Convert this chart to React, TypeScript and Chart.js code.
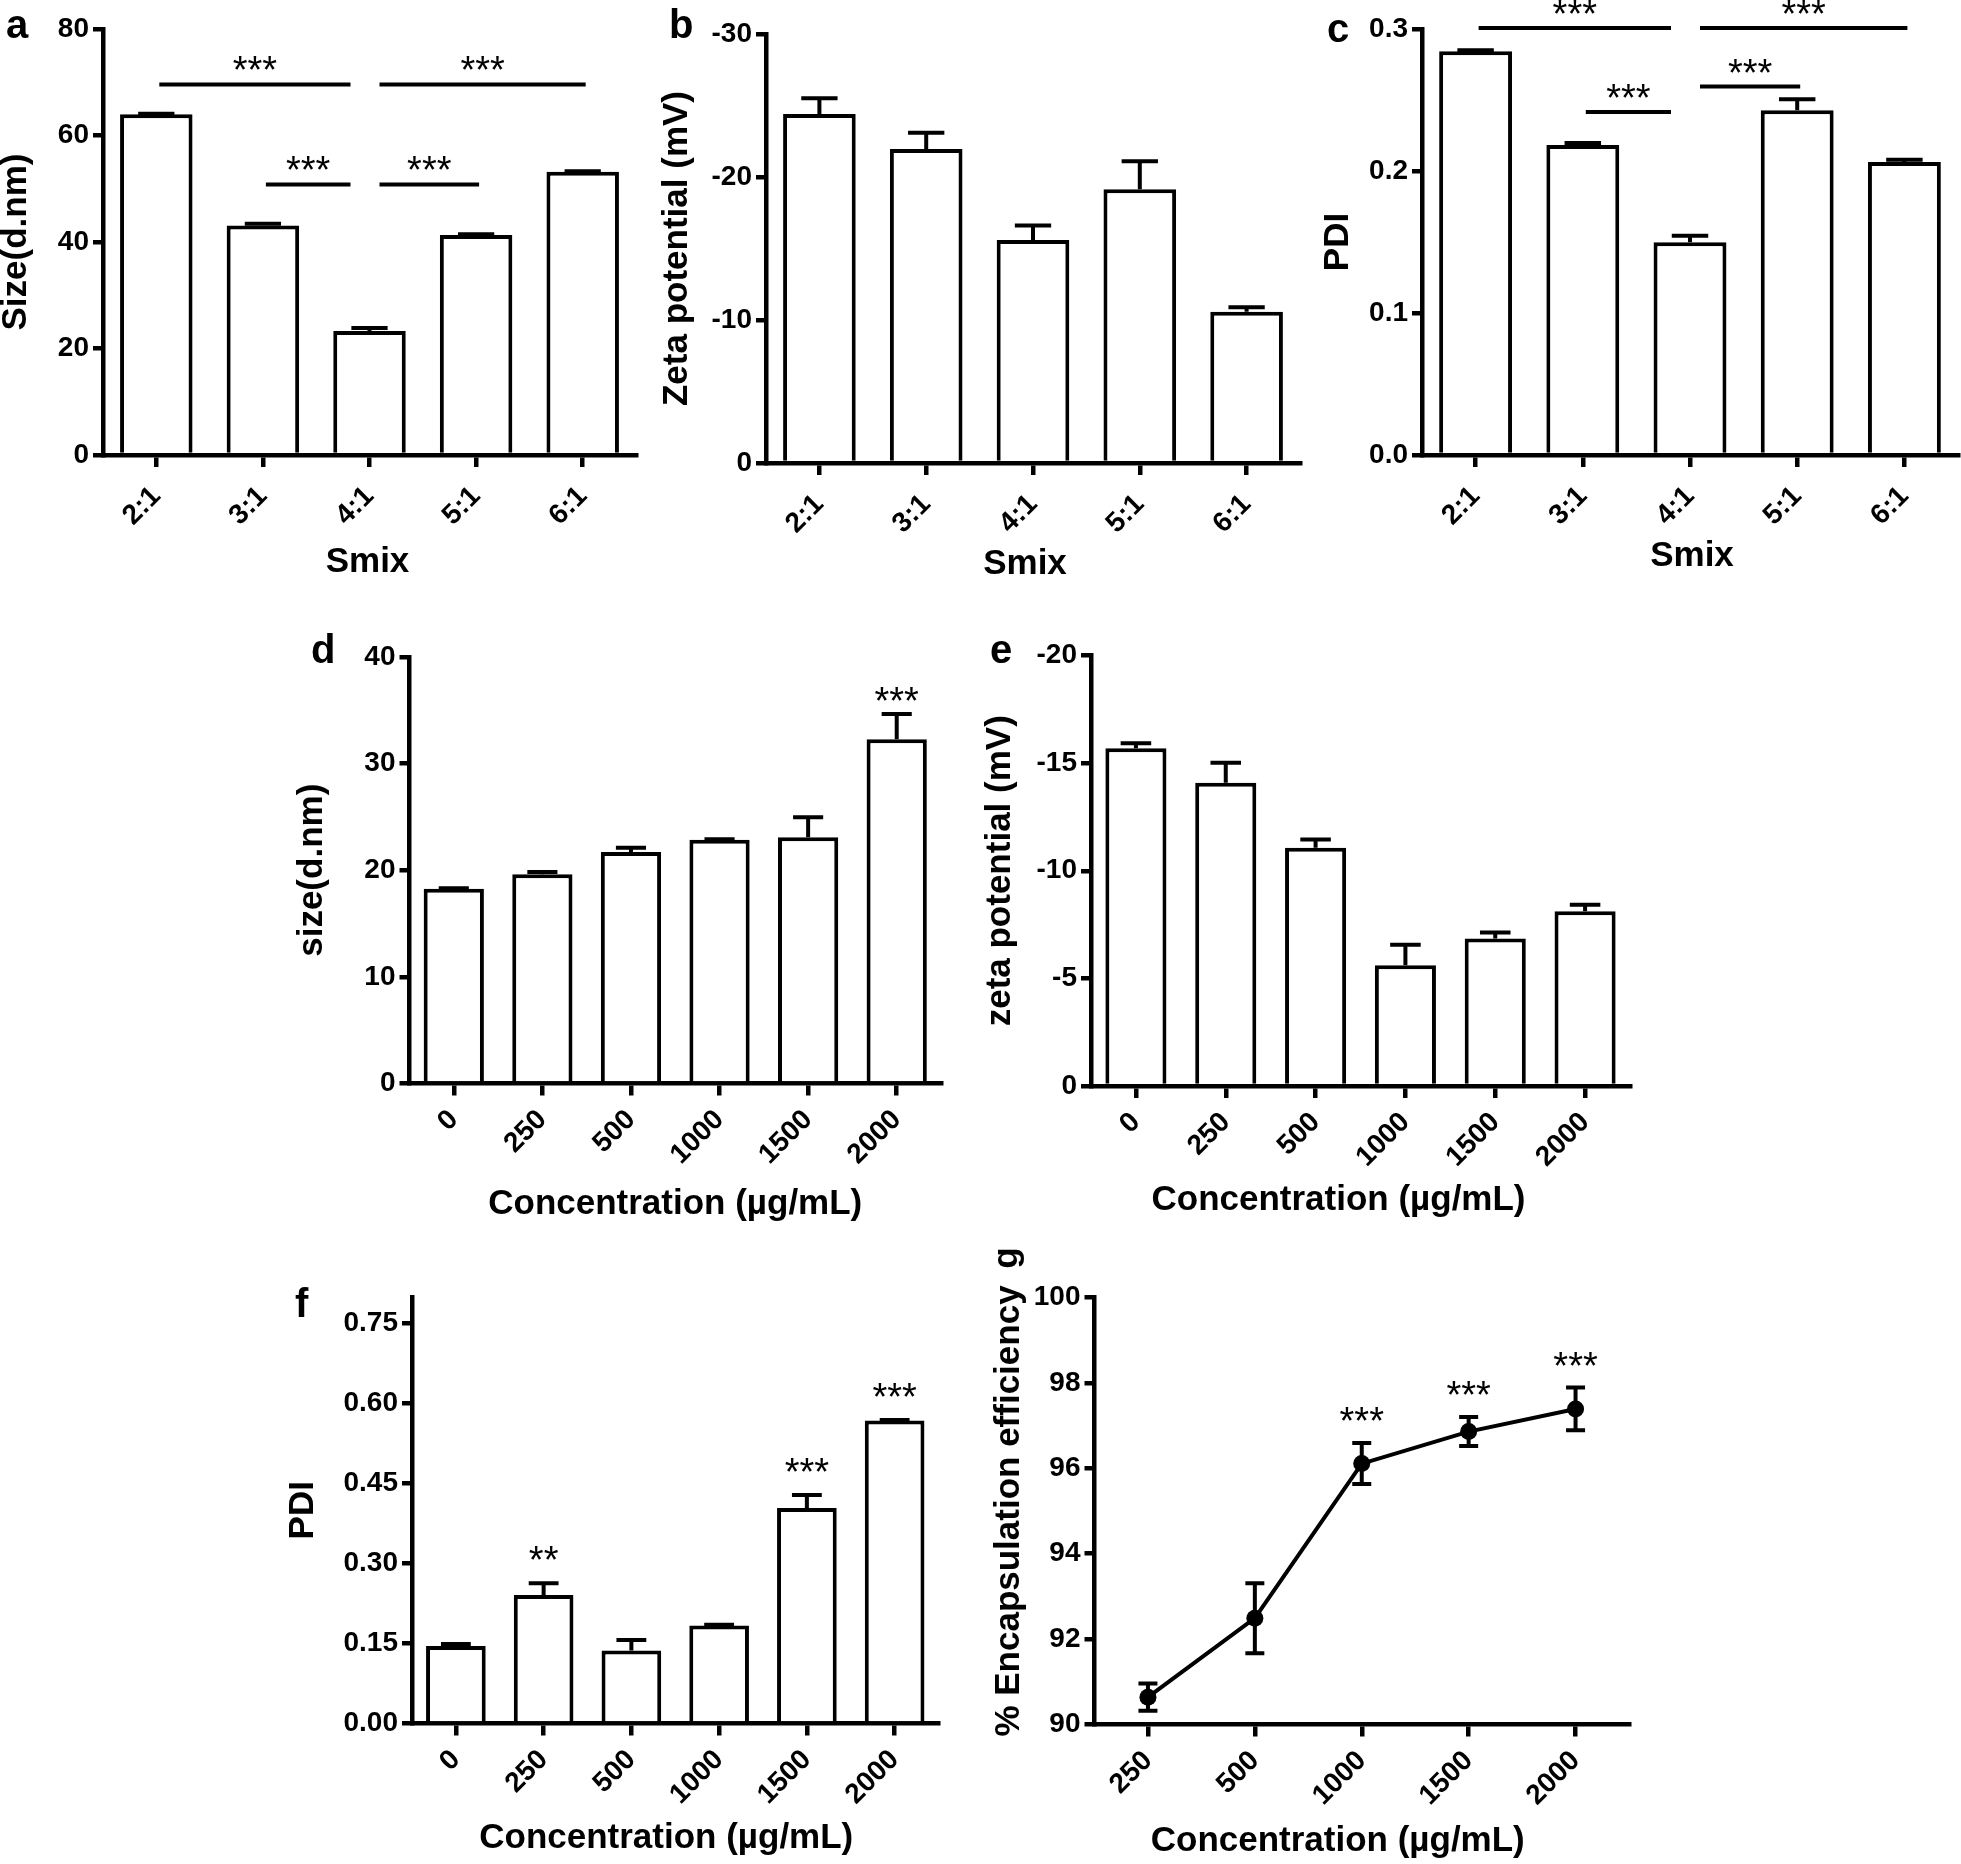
import React, { useEffect, useRef } from 'react';
import { Chart, registerables } from 'chart.js';

Chart.register(...registerables);

const FONT = "'Liberation Sans', Arial, Helvetica, sans-serif";

// ---------- data ----------
const smixLabels = ['2:1', '3:1', '4:1', '5:1', '6:1'];
const concLabels = ['0', '250', '500', '1000', '1500', '2000'];
const eeLabels = ['250', '500', '1000', '1500', '2000'];

// a: size vs Smix
const sizeSmix = [64.0, 43.1, 23.3, 41.3, 53.2];
const sizeSmixErr = [0.1, 0.35, 0.55, 0.15, 0.1];
const sizeSmixTicks = [0, 20, 40, 60, 80];
const sizeSmixTickLabels = ['0', '20', '40', '60', '80'];
const sizeSmixComparisons = [
  { from: '2:1', to: '4:1', value: 69.6, label: '***' },
  { from: '4:1', to: '6:1', value: 69.6, label: '***' },
  { from: '3:1', to: '4:1', value: 50.8, label: '***' },
  { from: '4:1', to: '5:1', value: 50.8, label: '***' },
];

// b: zeta potential vs Smix
const zetaSmix = [-24.4, -21.95, -15.6, -19.15, -10.57];
const zetaSmixErr = [1.1, 1.15, 1.0, 1.95, 0.33];
const zetaSmixTicks = [0, -10, -20, -30];
const zetaSmixTickLabels = ['0', '-10', '-20', '-30'];

// c: PDI vs Smix
const pdiSmix = [0.2843, 0.2183, 0.1498, 0.2428, 0.2064];
const pdiSmixErr = [0.0008, 0.0015, 0.0046, 0.0078, 0.0016];
const pdiSmixTicks = [0, 0.1, 0.2, 0.3];
const pdiSmixTickLabels = ['0.0', '0.1', '0.2', '0.3'];
const pdiSmixComparisons = [
  { from: '2:1', to: '4:1', value: 0.3007, label: '***' },
  { from: '4:1', to: '6:1', value: 0.3007, label: '***' },
  { from: '3:1', to: '4:1', value: 0.2415, label: '***' },
  { from: '4:1', to: '5:1', value: 0.2595, label: '***' },
];

// d: size vs concentration
const sizeConc = [18.26, 19.63, 21.7, 22.86, 23.09, 32.28];
const sizeConcErr = [0.05, 0.2, 0.4, 0.05, 1.87, 2.37];
const sizeConcSig = ['', '', '', '', '', '***'];
const sizeConcTicks = [0, 10, 20, 30, 40];
const sizeConcTickLabels = ['0', '10', '20', '30', '40'];

// e: zeta potential vs concentration
const zetaConc = [-15.69, -14.09, -11.07, -5.61, -6.85, -8.12];
const zetaConcErr = [0.23, 0.93, 0.38, 0.95, 0.28, 0.3];
const zetaConcTicks = [0, -5, -10, -15, -20];
const zetaConcTickLabels = ['0', '-5', '-10', '-15', '-20'];

// f: PDI vs concentration
const pdiConc = [0.1455, 0.241, 0.1367, 0.1837, 0.4043, 0.5684];
const pdiConcErr = [0.0035, 0.022, 0.02, 0.0015, 0.0244, 0.001];
const pdiConcSig = ['', '**', '', '', '***', '***'];
const pdiConcTicks = [0, 0.15, 0.3, 0.45, 0.6, 0.75];
const pdiConcTickLabels = ['0.00', '0.15', '0.30', '0.45', '0.60', '0.75'];

// g: encapsulation efficiency vs concentration
const eeConc = [90.64, 92.49, 96.11, 96.86, 97.39];
const eeConcErr = [0.32, 0.82, 0.48, 0.34, 0.5];
const eeConcSig = ['', '', '***', '***', '***'];
const eeConcTicks = [90, 92, 94, 96, 98, 100];
const eeConcTickLabels = ['90', '92', '94', '96', '98', '100'];

// ---------- layout / style ----------
type Box = { x: number; y: number; w: number; h: number };
type Area = { left: number; top: number; right: number; bottom: number };
type Comparison = { from: string; to: string; value: number; label: string };
type Panel = {
  id: string;
  kind: 'bar' | 'line';
  box: Box;
  area: Area;
  labels: string[];
  values: number[];
  errors: number[];
  yMin: number;
  yMax: number;
  reverse: boolean;
  ticks: number[];
  tickLabels: string[];
  yTitle: string;
  xTitle: string;
  yTitleX: number;
  xTitleY: number;
  xTitleDx: number;
  letter: string;
  letterX: number;
  letterY: number;
  letterRotated?: boolean;
  comparisons?: Comparison[];
  refLabel?: string;
  sig?: string[];
  sigGap?: number;
  xLabelPad: number;
};

const panels: Panel[] = [
  {
    id: 'a', kind: 'bar',
    box: { x: 0, y: 0, w: 650, h: 600 },
    area: { left: 103, top: 29, right: 636, bottom: 455 },
    labels: smixLabels, values: sizeSmix, errors: sizeSmixErr,
    yMin: 0, yMax: 80, reverse: false, ticks: sizeSmixTicks, tickLabels: sizeSmixTickLabels,
    yTitle: 'Size(d.nm)', xTitle: 'Smix', yTitleX: 16, xTitleY: 562, xTitleDx: -2,
    letter: 'a', letterX: 6, letterY: 38,
    comparisons: sizeSmixComparisons, refLabel: '4:1', xLabelPad: 13,
  },
  {
    id: 'b', kind: 'bar',
    box: { x: 650, y: 0, w: 660, h: 600 },
    area: { left: 766, top: 34, right: 1300, bottom: 463 },
    labels: smixLabels, values: zetaSmix, errors: zetaSmixErr,
    yMin: -30, yMax: 0, reverse: true, ticks: zetaSmixTicks, tickLabels: zetaSmixTickLabels,
    yTitle: 'Zeta potential (mV)', xTitle: 'Smix', yTitleX: 677, xTitleY: 564, xTitleDx: -8,
    letter: 'b', letterX: 669, letterY: 38, xLabelPad: 13,
  },
  {
    id: 'c', kind: 'bar',
    box: { x: 1310, y: 0, w: 651, h: 600 },
    area: { left: 1422, top: 29, right: 1958, bottom: 455 },
    labels: smixLabels, values: pdiSmix, errors: pdiSmixErr,
    yMin: 0, yMax: 0.3, reverse: false, ticks: pdiSmixTicks, tickLabels: pdiSmixTickLabels,
    yTitle: 'PDI', xTitle: 'Smix', yTitleX: 1338, xTitleY: 556, xTitleDx: 2,
    letter: 'c', letterX: 1327, letterY: 42,
    comparisons: pdiSmixComparisons, refLabel: '4:1', xLabelPad: 13,
  },
  {
    id: 'd', kind: 'bar',
    box: { x: 280, y: 620, w: 680, h: 620 },
    area: { left: 409.5, top: 657, right: 941, bottom: 1083.5 },
    labels: concLabels, values: sizeConc, errors: sizeConcErr,
    yMin: 0, yMax: 40, reverse: false, ticks: sizeConcTicks, tickLabels: sizeConcTickLabels,
    yTitle: 'size(d.nm)', xTitle: 'Concentration (µg/mL)', yTitleX: 312, xTitleY: 1204, xTitleDx: 0,
    letter: 'd', letterX: 311, letterY: 663,
    sig: sizeConcSig, sigGap: 22, xLabelPad: 8,
  },
  {
    id: 'e', kind: 'bar',
    box: { x: 960, y: 620, w: 700, h: 620 },
    area: { left: 1091, top: 655.5, right: 1630, bottom: 1086 },
    labels: concLabels, values: zetaConc, errors: zetaConcErr,
    yMin: -20, yMax: 0, reverse: true, ticks: zetaConcTicks, tickLabels: zetaConcTickLabels,
    yTitle: 'zeta potential (mV)', xTitle: 'Concentration (µg/mL)', yTitleX: 1000, xTitleY: 1200, xTitleDx: -22,
    letter: 'e', letterX: 990, letterY: 663, xLabelPad: 8,
  },
  {
    id: 'f', kind: 'bar',
    box: { x: 270, y: 1240, w: 690, h: 624 },
    area: { left: 412, top: 1297, right: 938.5, bottom: 1723.5 },
    labels: concLabels, values: pdiConc, errors: pdiConcErr,
    yMin: 0, yMax: 0.8, reverse: false, ticks: pdiConcTicks, tickLabels: pdiConcTickLabels,
    yTitle: 'PDI', xTitle: 'Concentration (µg/mL)', yTitleX: 303, xTitleY: 1838, xTitleDx: -9,
    letter: 'f', letterX: 295, letterY: 1317,
    sig: pdiConcSig, sigGap: 32, xLabelPad: 8,
  },
  {
    id: 'g', kind: 'line',
    box: { x: 960, y: 1240, w: 700, h: 624 },
    area: { left: 1094.5, top: 1297.5, right: 1629, bottom: 1724.5 },
    labels: eeLabels, values: eeConc, errors: eeConcErr,
    yMin: 90, yMax: 100, reverse: false, ticks: eeConcTicks, tickLabels: eeConcTickLabels,
    yTitle: '% Encapsulation efficiency', xTitle: 'Concentration (µg/mL)', yTitleX: 1009, xTitleY: 1841, xTitleDx: -24,
    letter: 'g', letterX: 1017, letterY: 1258, letterRotated: true,
    sig: eeConcSig, sigGap: 31, xLabelPad: 8,
  },
];

const AXIS_W = 4.5;
const BAR_BORDER = 4;
const ERR_W = 4;
const TICK_FONT = { family: FONT, size: 28, weight: 'bold' as const };
const TITLE_FONT = `bold 35px ${FONT}`;
const LETTER_FONT = `bold 40px ${FONT}`;
const STAR_FONT = `38px ${FONT}`;
const STAR_RISE = 22; // glyph centre above baseline

function decoPlugin(p: Panel) {
  const ox = p.box.x;
  const oy = p.box.y;
  return {
    id: 'deco_' + p.id,
    afterDatasetsDraw(chart: any) {
      const ctx: CanvasRenderingContext2D = chart.ctx;
      const xs = chart.scales.x;
      const ys = chart.scales.y;
      const meta = chart.getDatasetMeta(0);
      ctx.save();
      ctx.strokeStyle = '#000';
      ctx.fillStyle = '#000';
      ctx.lineWidth = ERR_W;
      ctx.lineCap = 'butt';
      p.values.forEach((v, i) => {
        const e = p.errors[i];
        const cx = xs.getPixelForValue(i);
        const dir = v < 0 ? -1 : 1;
        const capW = p.kind === 'bar' ? meta.data[i].width * 0.5 : 19;
        const yHi = ys.getPixelForValue(v + dir * e);
        const yLo = p.kind === 'bar' ? ys.getPixelForValue(v) : ys.getPixelForValue(v - dir * e);
        ctx.beginPath();
        ctx.moveTo(cx, yLo);
        ctx.lineTo(cx, yHi);
        ctx.moveTo(cx - capW / 2, yHi);
        ctx.lineTo(cx + capW / 2, yHi);
        if (p.kind === 'line') {
          ctx.moveTo(cx - capW / 2, yLo);
          ctx.lineTo(cx + capW / 2, yLo);
        }
        ctx.stroke();
        if (p.sig && p.sig[i]) {
          ctx.font = STAR_FONT;
          ctx.textAlign = 'center';
          ctx.textBaseline = 'alphabetic';
          ctx.fillText(p.sig[i], cx, yHi - (p.sigGap || 26) + STAR_RISE);
        }
      });
      if (p.comparisons) {
        ctx.lineWidth = 4;
        p.comparisons.forEach((c) => {
          const i1 = p.labels.indexOf(c.from);
          const i2 = p.labels.indexOf(c.to);
          const x1 = xs.getPixelForValue(i1) + (c.from === p.refLabel ? 10 : 3);
          const x2 = xs.getPixelForValue(i2) + (c.to === p.refLabel ? -19 : 3);
          const y = ys.getPixelForValue(c.value);
          ctx.beginPath();
          ctx.moveTo(x1, y);
          ctx.lineTo(x2, y);
          ctx.stroke();
          ctx.font = STAR_FONT;
          ctx.textAlign = 'center';
          ctx.textBaseline = 'alphabetic';
          ctx.fillText(c.label, (x1 + x2) / 2, y - 1);
        });
      }
      ctx.restore();
    },
    afterDraw(chart: any) {
      const ctx: CanvasRenderingContext2D = chart.ctx;
      const ca = chart.chartArea;
      ctx.save();
      ctx.fillStyle = '#000';
      // y title
      ctx.font = TITLE_FONT;
      ctx.textAlign = 'center';
      ctx.textBaseline = 'middle';
      ctx.save();
      ctx.translate(p.yTitleX - ox, (ca.top + ca.bottom) / 2);
      ctx.rotate(-Math.PI / 2);
      ctx.fillText(p.yTitle, 0, 0);
      ctx.restore();
      // x title
      ctx.fillText(p.xTitle, (ca.left + ca.right) / 2 + p.xTitleDx, p.xTitleY - oy);
      // panel letter
      ctx.font = LETTER_FONT;
      if (p.letterRotated) {
        ctx.font = TITLE_FONT;
        ctx.save();
        ctx.translate(p.letterX - ox, p.letterY - oy);
        ctx.rotate(-Math.PI / 2);
        ctx.textAlign = 'center';
        ctx.textBaseline = 'alphabetic';
        ctx.fillText(p.letter, 0, 0);
        ctx.restore();
      } else {
        ctx.textAlign = 'left';
        ctx.textBaseline = 'alphabetic';
        ctx.fillText(p.letter, p.letterX - ox, p.letterY - oy);
      }
      ctx.restore();
    },
  };
}

function buildConfig(p: Panel): any {
  const Wy = 75;
  const padLeft = p.area.left - p.box.x - Wy;
  const padTop = p.area.top - p.box.y;
  const padRight = p.box.x + p.box.w - p.area.right;
  const xH = p.box.y + p.box.h - p.area.bottom;
  const dataset =
    p.kind === 'bar'
      ? {
          type: 'bar',
          data: p.values,
          backgroundColor: '#ffffff',
          borderColor: '#000000',
          borderWidth: BAR_BORDER,
          borderSkipped: 'start',
          barPercentage: 0.68,
          categoryPercentage: 1,
        }
      : {
          type: 'line',
          data: p.values,
          borderColor: '#000000',
          borderWidth: 4,
          pointRadius: 8.5,
          pointBackgroundColor: '#000000',
          pointBorderColor: '#000000',
          pointBorderWidth: 0,
          tension: 0,
          fill: false,
        };
  const grid = (len: number) => ({
    display: true,
    offset: false,
    drawOnChartArea: false,
    drawTicks: true,
    tickLength: len,
    tickWidth: AXIS_W,
    tickColor: '#000',
    lineWidth: AXIS_W,
    color: '#000',
  });
  return {
    type: p.kind,
    data: { labels: p.labels, datasets: [dataset] },
    options: {
      animation: false,
      responsive: false,
      devicePixelRatio: 1,
      events: [],
      layout: { padding: { left: padLeft, top: padTop, right: padRight, bottom: 0 } },
      plugins: { legend: { display: false }, tooltip: { enabled: false }, title: { display: false } },
      scales: {
        x: {
          type: 'category',
          offset: true,
          grid: grid(12),
          border: { display: true, color: '#000', width: AXIS_W },
          ticks: {
            font: TICK_FONT,
            color: '#000',
            minRotation: 45,
            maxRotation: 45,
            padding: p.xLabelPad,
            autoSkip: false,
          },
          afterFit: (s: any) => {
            s.height = xH;
            s.paddingLeft = 0;
            s.paddingRight = 0;
            s.paddingTop = 0;
            s.paddingBottom = 0;
          },
        },
        y: {
          type: 'linear',
          min: p.yMin,
          max: p.yMax,
          reverse: p.reverse,
          grid: grid(10),
          border: { display: true, color: '#000', width: AXIS_W },
          ticks: {
            font: TICK_FONT,
            color: '#000',
            padding: 4,
            callback: (v: number) => {
              const k = p.ticks.indexOf(v);
              return k >= 0 ? p.tickLabels[k] : '';
            },
          },
          afterBuildTicks: (s: any) => {
            s.ticks = p.ticks.map((v) => ({ value: v }));
          },
          afterFit: (s: any) => {
            s.width = Wy;
            s.paddingLeft = 0;
            s.paddingRight = 0;
            s.paddingTop = 0;
            s.paddingBottom = 0;
          },
        },
      },
    },
    plugins: [decoPlugin(p)],
  };
}

function PanelChart({ spec }: { spec: Panel }) {
  const ref = useRef<HTMLCanvasElement>(null);
  useEffect(() => {
    if (!ref.current) return;
    const chart = new Chart(ref.current, buildConfig(spec));
    return () => chart.destroy();
  }, [spec]);
  return (
    <canvas
      ref={ref}
      width={spec.box.w}
      height={spec.box.h}
      style={{
        position: 'absolute',
        left: spec.box.x,
        top: spec.box.y,
        width: spec.box.w,
        height: spec.box.h,
      }}
    />
  );
}

export default function App() {
  useEffect(() => {
    document.body.style.margin = '0';
    document.body.style.overflow = 'hidden';
  }, []);
  return (
    <div
      style={{
        position: 'absolute',
        left: 0,
        top: 0,
        width: 1961,
        height: 1864,
        background: '#ffffff',
        overflow: 'hidden',
      }}
    >
      {panels.map((p) => (
        <PanelChart key={p.id} spec={p} />
      ))}
    </div>
  );
}
